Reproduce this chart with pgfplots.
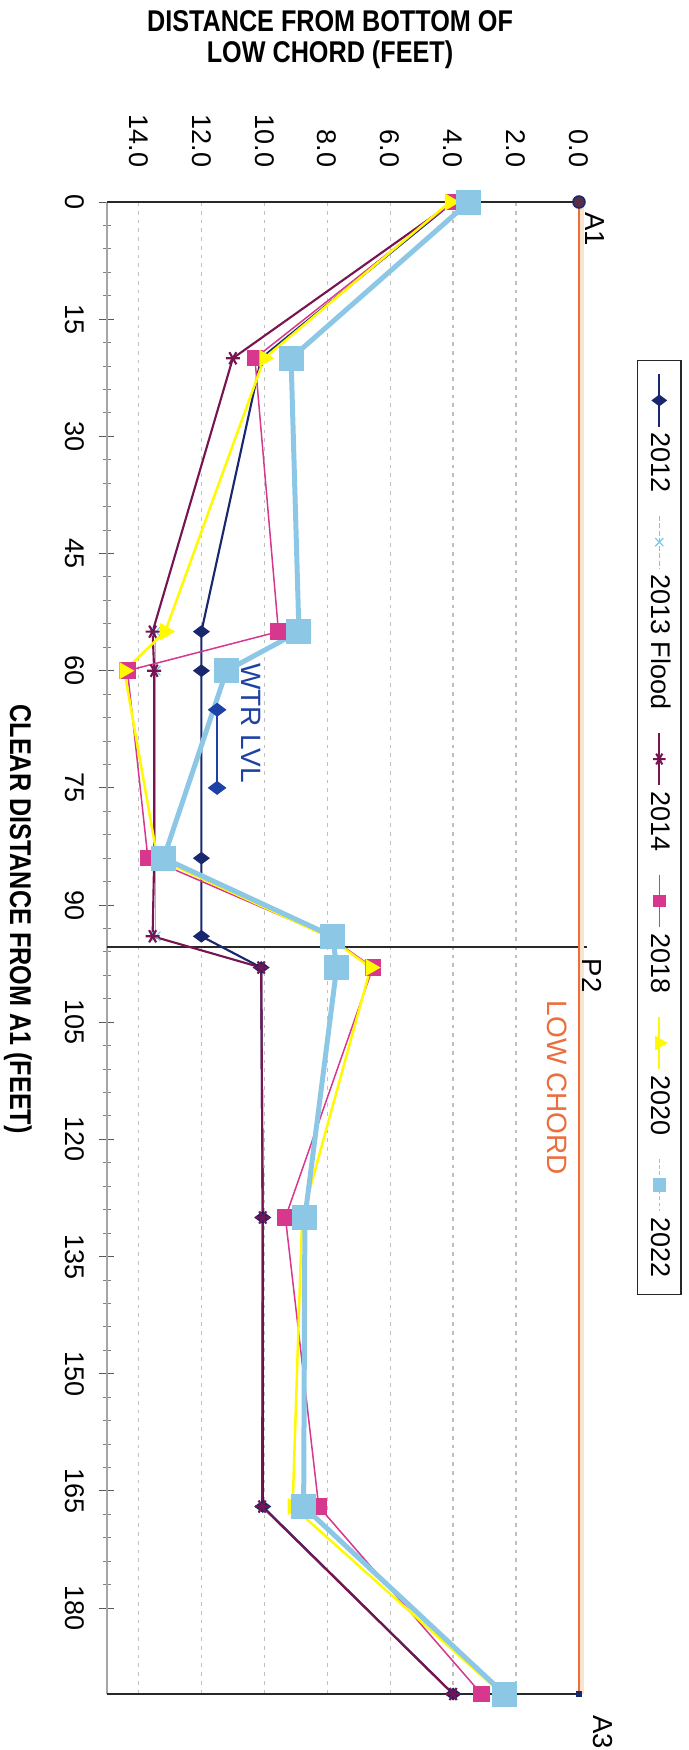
\documentclass[border=0pt]{standalone}
\usepackage{pgfplots}
\pgfplotsset{compat=1.18}
\usepackage{fontspec}
\setmainfont{Liberation Sans}
\newfontfamily\titlefont[FakeStretch=0.84]{Liberation Sans}
\definecolor{c2012}{RGB}{25,40,110}
\definecolor{c2013}{RGB}{110,200,240}
\definecolor{c2014}{RGB}{120,20,80}
\definecolor{c2018}{RGB}{215,55,140}
\definecolor{c2020}{RGB}{255,250,0}
\definecolor{c2022}{RGB}{140,200,230}
\definecolor{lowchord}{RGB}{235,110,60}
\definecolor{halo}{RGB}{250,228,205}
\definecolor{wtr}{RGB}{30,65,165}
\definecolor{pier}{RGB}{40,40,40}
\begin{document}
\begin{tikzpicture}[rotate=-90, transform shape]
\begin{axis}[
  scale only axis, width=596.8pt, height=188.8pt,
  xmin=0, xmax=191, ymin=0, ymax=15, y dir=reverse,
  clip=false,
  axis x line*=bottom,
  y axis line style={draw=none},
  x axis line style={gray!70, line width=0.5pt},
  xtick={0,15,...,180}, minor x tick num=4,
  tick align=center, major tick length=6pt, minor tick length=3pt,
  xtick style={black!65, line width=0.4pt},
  minor x tick style={black!50, line width=0.4pt},
  ytick={0,2,...,14}, ytick style={draw=none},
  ymajorgrids, grid style={gray!50, line width=0.5pt, dash pattern=on 1.5pt off 2pt},
  /pgf/number format/assume math mode=true,
  ticklabel style={font=\fontsize{10.8}{12}\selectfont},
  yticklabel style={/pgf/number format/fixed, /pgf/number format/fixed zerofill, /pgf/number format/precision=1, xshift=-7.3pt},
  xticklabel style={yshift=-2.5pt},
  xlabel={CLEAR DISTANCE FROM A1 (FEET)},
  xlabel style={at={(axis description cs:0.4806,-0.1886)}, anchor=center, inner sep=0pt, font=\titlefont\bfseries\fontsize{12}{14}\selectfont},
  ylabel={DISTANCE FROM BOTTOM OF\\LOW CHORD (FEET)},
  ylabel style={at={(axis description cs:-0.1086,0.4725)}, anchor=center, inner sep=0pt, align=center, font=\titlefont\bfseries\fontsize{12}{12.5}\selectfont},
  legend style={at={(axis description cs:0.1059,1.1229)}, anchor=south west, legend columns=-1, draw=black!85, line width=0.5pt, font=\fontsize{10.8}{12}\selectfont, inner xsep=5pt, inner ysep=2pt, /tikz/every even column/.append style={column sep=7pt}},
  legend cell align=left,
  legend image code/.code={\draw[mark repeat=2,mark phase=2] plot coordinates {(0cm,0cm) (0.37cm,0cm) (0.74cm,0cm)};},
]
% bounding frame of the whole picture
\path (axis description cs:-0.13539,-0.22669) rectangle (axis description cs:1.03753,1.23305);
% pier / abutment lines
\addplot[pier, line width=0.75pt, forget plot] coordinates {(0,0) (0,15)};
\addplot[pier, line width=0.75pt, forget plot] coordinates {(95.4,-0.25) (95.4,15)};
\addplot[pier, line width=0.75pt, forget plot] coordinates {(191,0) (191,15)};
% low chord
\addplot[halo, line width=1.6pt, forget plot] coordinates {(0,-0.08) (191,-0.08)};
\addplot[lowchord, line width=0.6pt, forget plot] coordinates {(0,0) (191,0)};
\addplot[only marks, mark=*, mark size=2.4pt, mark options={fill={rgb,255:red,90;green,45;blue,70}, draw=c2012, line width=0.6pt}, forget plot] coordinates {(0,0)};
\addplot[only marks, mark=square*, mark size=0.9pt, mark options={fill=c2012, draw=c2012}, forget plot] coordinates {(191,0)};
% survey series
\addplot[c2012, line width=0.85pt, mark=diamond*, mark size=2.7pt, forget plot] coordinates {
(0,4.0) (20,10.1) (55,12.0) (60,12.0) (84,12.0) (94,12.0) (98,10.1) (130,10.05) (167,10.05) (191,4.0)};
\addplot[c2013, line width=0.45pt, mark=x, mark size=2.6pt, forget plot] coordinates {
(55,13.45) (60,13.45) (84,13.45) (94,13.45)};
\addplot[c2014, line width=0.85pt, mark=asterisk, mark size=2.8pt, forget plot] coordinates {
(0,4.0) (20,11.0) (55,13.55) (60,13.5) (84,13.5) (94,13.55) (98,10.1) (130,10.05) (167,10.07) (191,4.0)};
\addplot[c2018, line width=0.6pt, mark=square*, mark size=3pt, forget plot] coordinates {
(0,4.0) (20,10.3) (55,9.55) (60,14.35) (84,13.7) (94,7.95) (98,6.55) (130,9.33) (167,8.27) (191,3.1)};
\addplot[c2020, line width=1pt, mark=triangle*, mark size=3pt, forget plot] coordinates {
(0,4.1) (20,10.0) (55,13.15) (60,14.45) (84,13.4) (94,8.0) (98,6.62) (130,8.8) (167,9.1) (191,2.45)};
\addplot[c2022, line width=2pt, mark=square*, mark size=4pt, forget plot] coordinates {
(0,3.5) (20,9.15) (55,8.9) (60,11.2) (84,13.2) (94,7.83) (98,7.7) (130,8.71) (167,8.75) (191,2.37)};
% water level
\addplot[wtr, line width=0.9pt, mark=diamond*, mark size=3pt, forget plot] coordinates {(65,11.5) (75,11.5)};
% legend
\addlegendimage{c2012, line width=0.8pt, mark=diamond*, mark size=2.5pt}
\addlegendentry{2012}
\addlegendimage{c2013, line width=0.45pt, dash pattern=on 2pt off 1pt, mark=x, mark size=2.3pt, mark options={solid}}
\addlegendentry{2013 Flood}
\addlegendimage{c2014, line width=0.8pt, mark=asterisk, mark size=2.5pt}
\addlegendentry{2014}
\addlegendimage{c2018, line width=0.6pt, mark=square*, mark size=2.2pt}
\addlegendentry{2018}
\addlegendimage{c2020, line width=0.9pt, mark=triangle*, mark size=2.5pt}
\addlegendentry{2020}
\addlegendimage{c2022, line width=0.6pt, dash pattern=on 1.5pt off 1pt, mark=square*, mark size=2.4pt, mark options={solid}}
\addlegendentry{2022}
% text labels
\node[anchor=west, inner sep=0pt, font=\fontsize{11}{13}\selectfont, xshift=4pt, yshift=6.5pt] at (axis cs:0,0) {A1};
\node[anchor=west, inner sep=0pt, font=\fontsize{11}{13}\selectfont, xshift=4.4pt, yshift=5.2pt] at (axis cs:95.4,0) {P2};
\node[anchor=west, inner sep=0pt, font=\fontsize{11}{13}\selectfont, xshift=8.4pt, yshift=9.6pt] at (axis cs:191,0) {A3};
\node[anchor=west, inner sep=0pt, text=lowchord, font=\fontsize{11.2}{13}\selectfont] at (axis cs:102.2,0.7) {LOW CHORD};
\node[anchor=west, inner sep=0pt, text=wtr, font=\fontsize{11.2}{13}\selectfont] at (axis cs:59.0,10.43) {WTR LVL};
\end{axis}
\end{tikzpicture}
\end{document}
